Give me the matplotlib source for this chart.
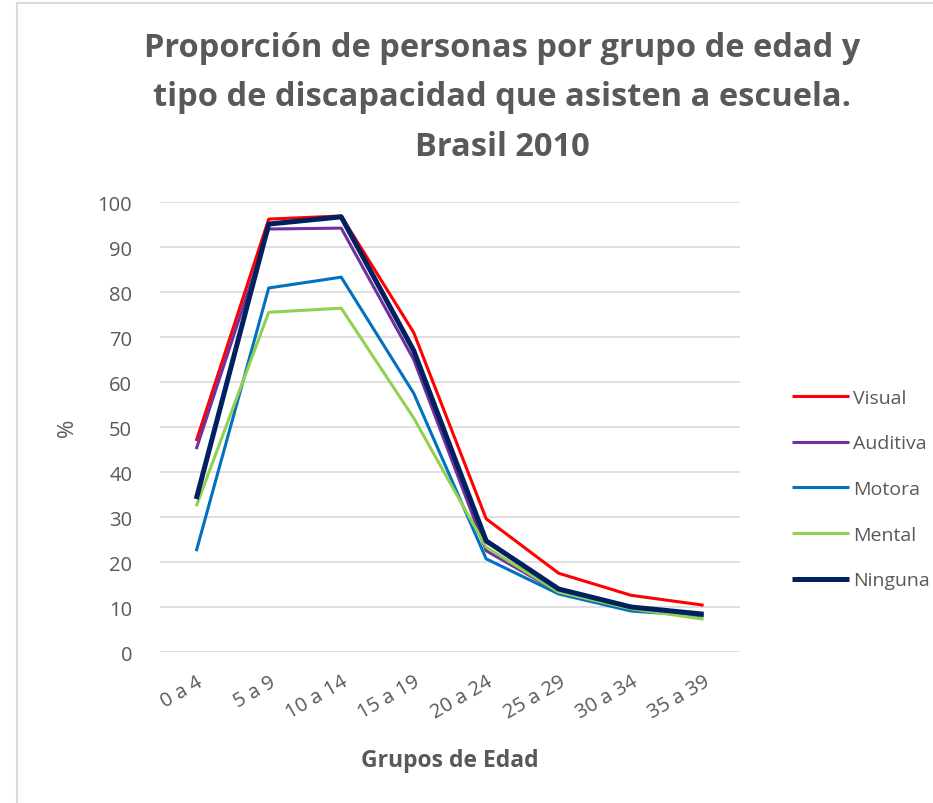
import matplotlib.pyplot as plt
from matplotlib.lines import Line2D

plt.rcParams['font.family'] = ['Open Sans', 'DejaVu Sans']

# data
grupos = ['0 a 4', '5 a 9', '10 a 14', '15 a 19', '20 a 24', '25 a 29', '30 a 34', '35 a 39']
visual = [46.9, 96.2, 96.9, 71.0, 29.6, 17.5, 12.6, 10.4]
auditiva = [45.1, 94.0, 94.2, 65.0, 22.5, 13.3, 9.8, 8.2]
motora = [22.4, 80.9, 83.3, 57.5, 20.7, 12.9, 9.1, 8.0]
mental = [32.4, 75.5, 76.4, 52.0, 23.3, 13.3, 9.6, 7.3]
ninguna = [34.0, 95.1, 96.7, 67.0, 24.7, 14.0, 10.0, 8.4]

series = [('Visual', visual, '#FF0000', 2.2),
          ('Auditiva', auditiva, '#7030A0', 2.2),
          ('Motora', motora, '#0070C0', 2.2),
          ('Mental', mental, '#92D050', 2.2),
          ('Ninguna', ninguna, '#002060', 3.6)]

gray = '#595959'

fig = plt.figure(figsize=(9.33, 8.04), dpi=100)
ax = fig.add_axes([0.1715, 0.1878, 0.793 - 0.1715, 0.7475 - 0.1878])

x = range(len(grupos))
for name, vals, col, lw in series:
    ax.plot(x, vals, color=col, lw=lw, label=name, solid_capstyle='butt')

ax.set_xlim(-0.5, len(grupos) - 0.5)
ax.set_ylim(0, 100)
ax.set_yticks(range(0, 101, 10))
ax.grid(axis='y', color='#D9D9D9', lw=1.2)
ax.set_axisbelow(True)
for s in ax.spines.values():
    s.set_visible(False)
ax.tick_params(axis='both', length=0, colors=gray, labelsize=14.5)
ax.tick_params(axis='y', pad=20)
ax.set_xticks(list(x))
ax.set_xticklabels(grupos, rotation=30, ha='right', rotation_mode='anchor')
ax.tick_params(axis='x', pad=14)

ax.set_ylabel('%', color=gray, fontsize=16, labelpad=14)
ax.set_xlabel('Grupos de Edad', color=gray, fontsize=16.5, fontweight='bold', labelpad=18)

fig.text(0.538, 0.96, 'Proporción de personas por grupo de edad y\ntipo de discapacidad que asisten a escuela.\nBrasil 2010',
         ha='center', va='top', color=gray, fontsize=23.5, fontweight='bold', linespacing=1.65)

leg = ax.legend(loc='center left', bbox_to_anchor=(1.06, 0.362), frameon=False,
                fontsize=14, labelcolor=gray, handlelength=2.9, handletextpad=0.25,
                labelspacing=1.42)

# chart border
fig.add_artist(Line2D([0.018, 1.0], [0.995, 0.995], color='#D9D9D9', lw=1.5))
fig.add_artist(Line2D([0.018, 0.018], [0.0, 0.995], color='#D9D9D9', lw=1.5))

fig.savefig('out.png', dpi=100)
